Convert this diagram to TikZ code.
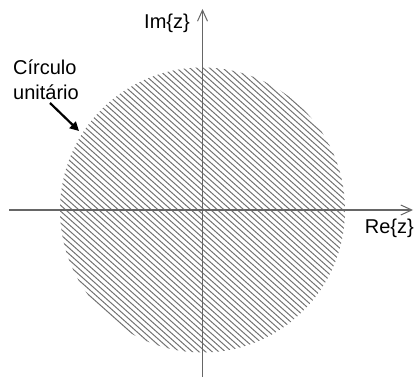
\documentclass[tikz,border=0pt]{standalone}
\usepackage{fontspec}
\setmainfont{Liberation Sans}
\usetikzlibrary{arrows.meta}

\begin{document}
\begin{tikzpicture}[x=1pt,y=-1pt,
  axis/.style={draw=black!60,line width=1.3pt,-{Straight Barb[length=11pt,width=10pt,line width=1pt]}},
  hatch/.style={draw=black!55,line width=1pt},
  lbl/.style={font=\fontsize{20}{25}\selectfont,inner sep=0pt}]
  \useasboundingbox (0,0) rectangle (414,379);
  \coordinate (c) at (202.5,210);
  % hatched unit disc
  \begin{scope}
    \clip (c) circle (142.5);
    \foreach \k in {-50,...,50}
      \draw[hatch] ({202.5+\k*6.6-180},60) -- +(360,320);
  \end{scope}
  % axes
  \coordinate (xs) at (9,210);
  \coordinate (xe) at (413,210);
  \coordinate (ys) at (202.5,377);
  \coordinate (ye) at (202.5,9);
  \draw[axis] (xs) -- (xe);
  \draw[axis] (ys) -- (ye);
  \node[lbl] (im) at (167,23) {Im\{z\}};
  \node[lbl,anchor=east] (re) at (414,228) {Re\{z\}};
  % label of the circle
  \node[lbl,align=left,anchor=west] (circ) at (13,80) {Círculo\\unitário};
  \coordinate (tip) at (79,131);
  \draw[line width=2.2pt,-{Triangle[length=9pt,width=9pt]}] (50,103) -- (tip);
\end{tikzpicture}
\end{document}
